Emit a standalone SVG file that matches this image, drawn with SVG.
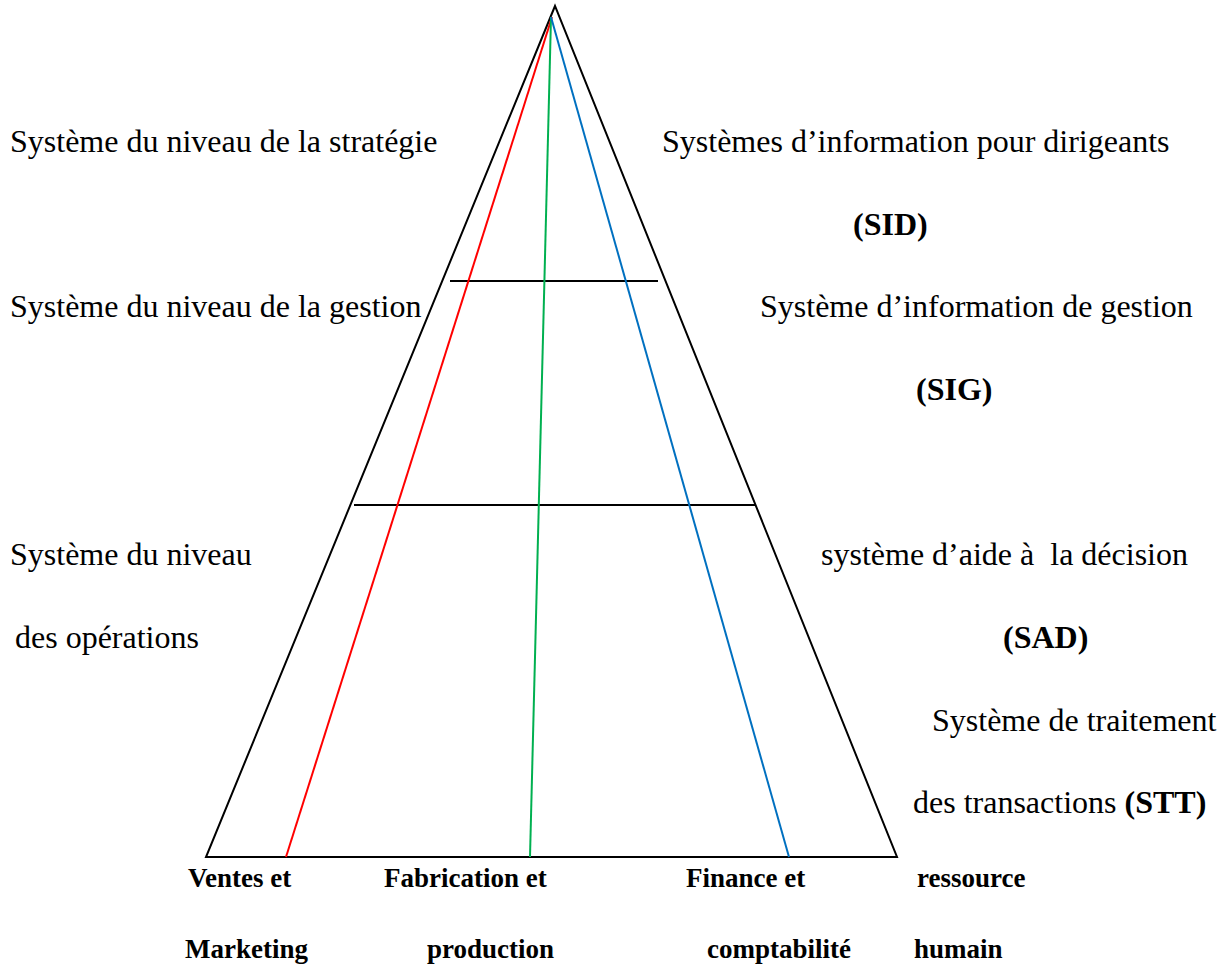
<svg xmlns="http://www.w3.org/2000/svg" width="1227" height="964" viewBox="0 0 1227 964">
  <style>
    .lbl { font-family: "Liberation Serif", "Times New Roman", serif; font-size: 32px; fill: #000; }
    .b { font-weight: bold; }
    .dept { font-family: "Liberation Serif", "Times New Roman", serif; font-size: 27px; font-weight: bold; fill: #000; }
    .edge { fill: none; stroke-width: 2; }
  </style>
  <rect width="1227" height="964" fill="#fff"/>

  <!-- pyramid outline and level separators -->
  <g id="pyramid">
    <polygon points="555,6 206,857 897,857" fill="none" stroke="#000" stroke-width="2" stroke-linejoin="miter"/>
    <line x1="450" y1="281" x2="658" y2="281" stroke="#000" stroke-width="2"/>
    <line x1="354" y1="505" x2="755" y2="505" stroke="#000" stroke-width="2"/>
  </g>

  <!-- functional area dividers -->
  <g id="connectors">
    <line class="edge" x1="552" y1="17" x2="286" y2="857" stroke="#ff0000"/>
    <line class="edge" x1="551" y1="17" x2="530" y2="857" stroke="#00b050"/>
    <line class="edge" x1="551" y1="17" x2="789" y2="857" stroke="#0070c0"/>
  </g>

  <!-- level names (left) -->
  <g id="level-strategy">
    <text class="lbl" x="10" y="152">Système du niveau de la stratégie</text>
  </g>
  <g id="level-management">
    <text class="lbl" x="10" y="317">Système du niveau de la gestion</text>
  </g>
  <g id="level-operations">
    <text class="lbl" x="10" y="565">Système du niveau</text>
    <text class="lbl" x="15" y="648">des opérations</text>
  </g>

  <!-- system types (right) -->
  <g id="sys-sid">
    <text class="lbl" x="662" y="152">Systèmes d’information pour dirigeants</text>
    <text class="lbl b" x="853" y="235">(SID)</text>
  </g>
  <g id="sys-sig">
    <text class="lbl" x="760" y="317">Système d’information de gestion</text>
    <text class="lbl b" x="916" y="400">(SIG)</text>
  </g>
  <g id="sys-sad">
    <text class="lbl" x="821" y="565" xml:space="preserve">système d’aide à  la décision</text>
    <text class="lbl b" x="1003" y="648">(SAD)</text>
  </g>
  <g id="sys-stt">
    <text class="lbl" x="932" y="731">Système de traitement</text>
    <text class="lbl" x="913" y="813">des transactions <tspan class="b">(STT)</tspan></text>
  </g>

  <!-- functional areas (bottom) -->
  <g id="area-sales">
    <text class="dept" x="188" y="887">Ventes et</text>
    <text class="dept" x="185" y="958">Marketing</text>
  </g>
  <g id="area-production">
    <text class="dept" x="384" y="887">Fabrication et</text>
    <text class="dept" x="427" y="958">production</text>
  </g>
  <g id="area-finance">
    <text class="dept" x="686" y="887">Finance et</text>
    <text class="dept" x="707" y="958">comptabilité</text>
  </g>
  <g id="area-hr">
    <text class="dept" x="917" y="887">ressource</text>
    <text class="dept" x="914" y="958">humain</text>
  </g>
</svg>
